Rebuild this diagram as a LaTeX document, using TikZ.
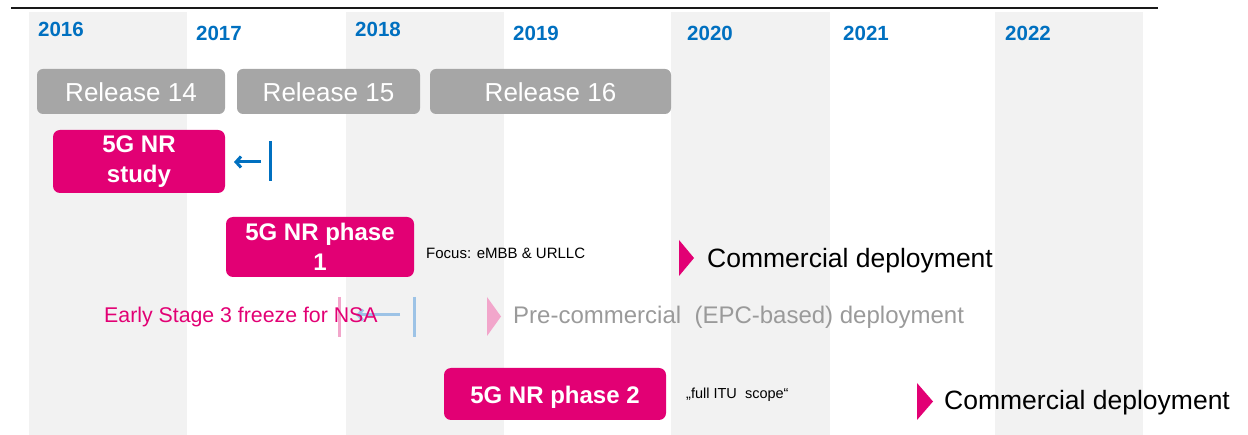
\documentclass[tikz,border=0pt]{standalone}
\usepackage{fontspec}
\setmainfont{Liberation Sans}
\usetikzlibrary{positioning,arrows.meta}

\definecolor{tmagenta}{HTML}{E20074}
\definecolor{relgray}{HTML}{A6A6A6}
\definecolor{colgray}{HTML}{F2F2F2}
\definecolor{yearblue}{HTML}{0070C0}
\definecolor{lightpink}{HTML}{F2A6CB}
\definecolor{lightblue}{HTML}{9DC3E6}
\definecolor{pregray}{HTML}{9A9A9A}

\begin{document}
\begin{tikzpicture}[x=1pt,y=-1pt,
	relbox/.style={fill=relgray, rounded corners=6pt, text=white, inner sep=0pt,
		text height=21pt, text depth=0pt, font=\fontsize{26}{28}\selectfont},
	phasebox/.style={fill=tmagenta, rounded corners=7pt, text=white, inner sep=0pt,
		align=center, font=\bfseries\fontsize{24}{30}\selectfont},
	yearlabel/.style={anchor=west, inner sep=0pt, text=yearblue,
		font=\bfseries\fontsize{20.5}{22}\selectfont},
	deploy/.style={anchor=west, inner sep=0pt, font=\fontsize{26.5}{28}\selectfont},
	note/.style={anchor=west, inner sep=0pt, font=\fontsize{15}{17}\selectfont},
	freeze/.style={line width=3pt}
]

\useasboundingbox (0,0) rectangle (1248,435);

% Year columns
\foreach \xa/\xb in {29/187, 346/504, 671/830, 995/1143}
	\fill[colgray] (\xa,12) rectangle (\xb,435);

\coordinate (rule_l) at (11,8);
\coordinate (rule_r) at (1158,8);
\draw[line width=1.5pt, black!90] (rule_l) -- (rule_r);

\foreach \xx/\yy/\yr in {38/29/2016, 196/33/2017, 355/29/2018, 513/33/2019,
		687/33/2020, 843/33/2021, 1005/33/2022}
	\node[yearlabel] (year\yr) at (\xx,\yy) {\yr};

%%%%%%%%%%%%%%%%%%%
% Releases

\node[relbox, minimum width=188pt, minimum height=45pt] (rel14) at (131,91.5) {Release 14};
\node[relbox, minimum width=183pt, minimum height=45pt] (rel15) at (328.5,91.5) {Release 15};
\node[relbox, minimum width=241pt, minimum height=45pt] (rel16) at (550.5,91.5) {Release 16};

%%%%%%%%%%%%%%%%%%%
% Study

\node[phasebox, minimum width=172pt, minimum height=63pt] (study) at (139,161.5) {5G NR\\study};

\coordinate (study_bar_t) at (270,141);
\coordinate (study_bar_b) at (270,181);
\coordinate (study_arr) at (261,162);
\coordinate (study_tip) at (234,162);

\draw[freeze, yearblue] (study_bar_t) -- (study_bar_b);
\draw[freeze, yearblue, -{Straight Barb[length=5pt,width=11pt]}] (study_arr) -- (study_tip);

%%%%%%%%%%%%%%%%%%%
% Phase 1

\node[phasebox, minimum width=188pt, minimum height=60pt] (phase1) at (320,247) {5G NR phase\\1};
\node[note] (focus) at (426,253) {Focus: eMBB \& URLLC};

\coordinate (tri1) at (679,240);
\fill[tmagenta] (tri1) -- ++(15,18) -- ++(-15,18) -- cycle;
\node[deploy] (comm1) at (707,260.5) {Commercial deployment};

%%%%%%%%%%%%%%%%%%%
% Early freeze for NSA

\coordinate (nsa_bar_t) at (339,297);
\coordinate (nsa_bar_b) at (339,337);
\coordinate (nsa_end_t) at (414,297);
\coordinate (nsa_end_b) at (414,337);
\coordinate (nsa_arr) at (400,315);
\coordinate (nsa_tip) at (356,315);

\draw[freeze, lightpink] (nsa_bar_t) -- (nsa_bar_b);
\draw[freeze, lightblue] (nsa_end_t) -- (nsa_end_b);
\draw[freeze, lightblue, -{Straight Barb[length=5pt,width=11pt]}] (nsa_arr) -- (nsa_tip);

\node[anchor=west, inner sep=0pt, text=tmagenta,
	font=\fontsize{21.3}{23}\selectfont] (freeze_nsa) at (104,316.5) {Early Stage 3 freeze for NSA};

\coordinate (tri_pre) at (487,297);
\fill[lightpink] (tri_pre) -- ++(14,19.5) -- ++(-14,19.5) -- cycle;
\node[anchor=west, inner sep=0pt, text=pregray,
	font=\fontsize{24}{26}\selectfont] (precomm) at (513,317) {Pre-commercial\ \ (EPC-based) deployment};

%%%%%%%%%%%%%%%%%%%
% Phase 2

\node[phasebox, minimum width=222pt, minimum height=52pt,
	text height=19pt, text depth=0pt] (phase2) at (555,394) {5G NR phase 2};
\node[note, font=\fontsize{14.5}{16}\selectfont] (itu) at (686,395) {„full ITU\ \ scope“};

\coordinate (tri2) at (917,383);
\fill[tmagenta] (tri2) -- ++(16,18.5) -- ++(-16,18.5) -- cycle;
\node[deploy] (comm2) at (944,402.5) {Commercial deployment};

\end{tikzpicture}
\end{document}
